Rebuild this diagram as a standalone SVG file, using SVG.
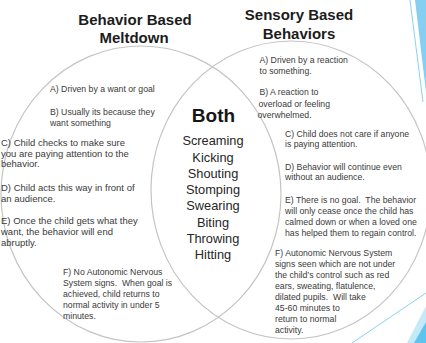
<svg xmlns="http://www.w3.org/2000/svg" width="426" height="343" viewBox="0 0 426 343">
  <style>
    .ring { fill: none; stroke: #c4c4c4; stroke-width: 1.2; }
    .title { font-family: "Liberation Sans", Arial, sans-serif; font-weight: bold; font-size: 15px; fill: #1c1c1c; text-anchor: middle; }
    .both-head { font-family: "Liberation Sans", Arial, sans-serif; font-weight: bold; font-size: 19px; fill: #161616; text-anchor: middle; }
    .both-item { font-family: "Liberation Sans", Arial, sans-serif; font-size: 12.8px; fill: #262626; text-anchor: middle; }
    .note { font-family: "Liberation Sans", Arial, sans-serif; font-size: 8.7px; fill: #3a3a3a; }
    .note-lg { font-family: "Liberation Sans", Arial, sans-serif; font-size: 9.5px; fill: #3a3a3a; }
    .accent-line { fill: none; stroke: #86d2f1; stroke-width: 1; }
  </style>

  <rect width="426" height="343" fill="#ffffff"/>

  <!-- corner accents -->
  <g id="corner-accents">
    <line class="accent-line" x1="410" y1="0" x2="423" y2="102"/>
    <polygon points="415,0 426,0 426,92" fill="#86cff0"/>
    <line class="accent-line" x1="352" y1="343" x2="426" y2="293"/>
    <polygon points="407,343 426,306 426,343" fill="#c4e9f8"/>
    <polygon points="414,343 426,322 426,343" fill="#5ec3ee"/>
  </g>

  <!-- the two overlapping sets -->
  <g id="behavior-set">
    <ellipse class="ring" cx="141" cy="194" rx="140" ry="148"/>
  </g>
  <g id="sensory-set">
    <ellipse class="ring" cx="291" cy="190" rx="140" ry="149"/>
  </g>

  <!-- headings -->
  <g id="behavior-title">
    <text class="title" x="135" y="25">Behavior Based</text>
    <text class="title" x="134" y="43">Meltdown</text>
  </g>
  <g id="sensory-title">
    <text class="title" x="299" y="19.5">Sensory Based</text>
    <text class="title" x="299" y="39">Behaviors</text>
  </g>

  <!-- shared behaviours -->
  <g id="both">
    <text class="both-head" x="213.5" y="122">Both</text>
    <text class="both-item" x="213" y="145">Screaming</text>
    <text class="both-item" x="213" y="161.5">Kicking</text>
    <text class="both-item" x="213" y="177.5">Shouting</text>
    <text class="both-item" x="213" y="194">Stomping</text>
    <text class="both-item" x="213" y="210">Swearing</text>
    <text class="both-item" x="213" y="226.5">Biting</text>
    <text class="both-item" x="213" y="242.5">Throwing</text>
    <text class="both-item" x="213" y="258.5">Hitting</text>
  </g>

  <!-- behaviour-based notes -->
  <g id="behavior-notes">
    <text class="note" x="50" y="92">A) Driven by a want or goal</text>
    <text class="note" x="50" y="115">B) Usually its because they</text>
    <text class="note" x="50" y="126">want something</text>
    <text class="note-lg" x="1" y="146">C) Child checks to make sure</text>
    <text class="note-lg" x="1" y="156.5">you are paying attention to the</text>
    <text class="note-lg" x="1" y="167">behavior.</text>
    <text class="note-lg" x="1" y="191">D) Child acts this way in front of</text>
    <text class="note-lg" x="1" y="201.5">an audience.</text>
    <text class="note-lg" x="1" y="224">E) Once the child gets what they</text>
    <text class="note-lg" x="1" y="235">want, the behavior will end</text>
    <text class="note-lg" x="1" y="246">abruptly.</text>
    <text class="note" x="63" y="274.5">F) No Autonomic Nervous</text>
    <text class="note" x="63" y="285.7" xml:space="preserve">System signs.  When goal is</text>
    <text class="note" x="63" y="296.9">achieved, child returns to</text>
    <text class="note" x="63" y="308.1">normal activity in under 5</text>
    <text class="note" x="63" y="319.3">minutes.</text>
  </g>

  <!-- sensory-based notes -->
  <g id="sensory-notes">
    <text class="note" x="259.5" y="63">A) Driven by a reaction</text>
    <text class="note" x="259.5" y="74">to something.</text>
    <text class="note" x="259.5" y="95">B) A reaction to</text>
    <text class="note" x="258.5" y="106.5">overload or feeling</text>
    <text class="note" x="257.5" y="118">overwhelmed.</text>
    <text class="note" x="285" y="136.5">C) Child does not care if anyone</text>
    <text class="note" x="285" y="147">is paying attention.</text>
    <text class="note" x="285" y="169.5">D) Behavior will continue even</text>
    <text class="note" x="285" y="180">without an audience.</text>
    <text class="note" x="285" y="202.5" xml:space="preserve">E) There is no goal.  The behavior</text>
    <text class="note" x="285" y="213.5">will only cease once the child has</text>
    <text class="note" x="285" y="224.5">calmed down or when a loved one</text>
    <text class="note" x="285" y="236">has helped them to regain control.</text>
    <text class="note" x="275" y="256">F) Autonomic Nervous System</text>
    <text class="note" x="275" y="267">signs seen which are not under</text>
    <text class="note" x="275" y="278">the child’s control such as red</text>
    <text class="note" x="275" y="289">ears, sweating, flatulence,</text>
    <text class="note" x="275" y="300" xml:space="preserve">dilated pupils.  Will take</text>
    <text class="note" x="275" y="311">45-60 minutes to</text>
    <text class="note" x="275" y="322">return to normal</text>
    <text class="note" x="275" y="333">activity.</text>
  </g>
</svg>
